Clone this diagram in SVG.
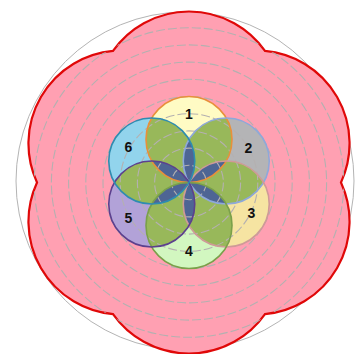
<svg xmlns="http://www.w3.org/2000/svg" width="356" height="354" viewBox="0 0 356 354">
<style>
.grid{fill:none;stroke:#b4b0b0;stroke-width:1.1;stroke-dasharray:9 3}
.ov{fill:#98b85a}
.pt{fill:#4e6594}
.ol{fill:none;stroke-width:1.6}
.lbl{font-family:"Liberation Sans",Arial,sans-serif;font-weight:bold;font-size:14px;fill:#111;text-anchor:middle}
</style>
<defs>
<path id="flower" d="M340.98,182.5 A93,93 0 0,1 264.99,314.12 A93,93 0 0,1 113.01,314.12 A93,93 0 0,1 37.02,182.5 A93,93 0 0,1 113.01,50.88 A93,93 0 0,1 264.99,50.88 A93,93 0 0,1 340.98,182.5 Z"/>
<clipPath id="fclip"><use href="#flower"/></clipPath>
</defs>
<rect width="356" height="354" fill="#ffffff"/>
<circle cx="185" cy="181" r="169" fill="none" stroke="#b4b4b4" stroke-width="1"/>
<use href="#flower" fill="#ffa0b2" stroke="#e00808" stroke-width="2.2"/>
<g id="circle-fills">
<circle cx="189" cy="139.5" r="43" fill="#fffbc4"/>
<circle cx="226.24" cy="161" r="43" fill="#b4b4b6"/>
<circle cx="226.24" cy="204" r="43" fill="#f6e4a2"/>
<circle cx="189" cy="225.5" r="43" fill="#d2f7c0"/>
<circle cx="151.76" cy="204" r="43" fill="#b2a2d8"/>
<circle cx="151.76" cy="161" r="43" fill="#92d4ec"/>
</g>
<g id="overlaps">
<path class="ov" d="M189,182.5 A43,43 0 0,1 226.24,118 A43,43 0 0,1 189,182.5 Z"/>
<path class="ov" d="M189,182.5 A43,43 0 0,1 263.48,182.5 A43,43 0 0,1 189,182.5 Z"/>
<path class="ov" d="M189,182.5 A43,43 0 0,1 226.24,247 A43,43 0 0,1 189,182.5 Z"/>
<path class="ov" d="M189,182.5 A43,43 0 0,1 151.76,247 A43,43 0 0,1 189,182.5 Z"/>
<path class="ov" d="M189,182.5 A43,43 0 0,1 114.52,182.5 A43,43 0 0,1 189,182.5 Z"/>
<path class="ov" d="M189,182.5 A43,43 0 0,1 151.76,118 A43,43 0 0,1 189,182.5 Z"/>
<path class="pt" d="M189,182.5 A43,43 0 0,1 189,139.5 A43,43 0 0,1 189,182.5 Z"/>
<path class="pt" d="M189,182.5 A43,43 0 0,1 226.24,161 A43,43 0 0,1 189,182.5 Z"/>
<path class="pt" d="M189,182.5 A43,43 0 0,1 226.24,204 A43,43 0 0,1 189,182.5 Z"/>
<path class="pt" d="M189,182.5 A43,43 0 0,1 189,225.5 A43,43 0 0,1 189,182.5 Z"/>
<path class="pt" d="M189,182.5 A43,43 0 0,1 151.76,204 A43,43 0 0,1 189,182.5 Z"/>
<path class="pt" d="M189,182.5 A43,43 0 0,1 151.76,161 A43,43 0 0,1 189,182.5 Z"/>
</g>
<g id="grid" clip-path="url(#fclip)">
<circle class="grid" cx="189" cy="182.5" r="17.2"/>
<circle class="grid" cx="189" cy="182.5" r="34.4"/>
<circle class="grid" cx="189" cy="182.5" r="51.6"/>
<circle class="grid" cx="189" cy="182.5" r="68.8"/>
<circle class="grid" cx="189" cy="182.5" r="86"/>
<circle class="grid" cx="189" cy="182.5" r="103.2"/>
<circle class="grid" cx="189" cy="182.5" r="120.4"/>
<circle class="grid" cx="189" cy="182.5" r="137.6"/>
<circle class="grid" cx="189" cy="182.5" r="154.8"/>
</g>
<g id="connectors"/>
<g id="node1"><circle class="ol" cx="189" cy="139.5" r="43" stroke="#e8903a"/><text class="lbl" x="189" y="119">1</text></g>
<g id="node2"><circle class="ol" cx="226.24" cy="161" r="43" stroke="#8ea8da"/><text class="lbl" x="248.5" y="153">2</text></g>
<g id="node3"><circle class="ol" cx="226.24" cy="204" r="43" stroke="#cf9a98"/><text class="lbl" x="251.5" y="218">3</text></g>
<g id="node4"><circle class="ol" cx="189" cy="225.5" r="43" stroke="#7aa04a"/><text class="lbl" x="189" y="256">4</text></g>
<g id="node5"><circle class="ol" cx="151.76" cy="204" r="43" stroke="#5c408e"/><text class="lbl" x="128.5" y="223">5</text></g>
<g id="node6"><circle class="ol" cx="151.76" cy="161" r="43" stroke="#2e8cb0"/><text class="lbl" x="128.5" y="152">6</text></g>
</svg>
